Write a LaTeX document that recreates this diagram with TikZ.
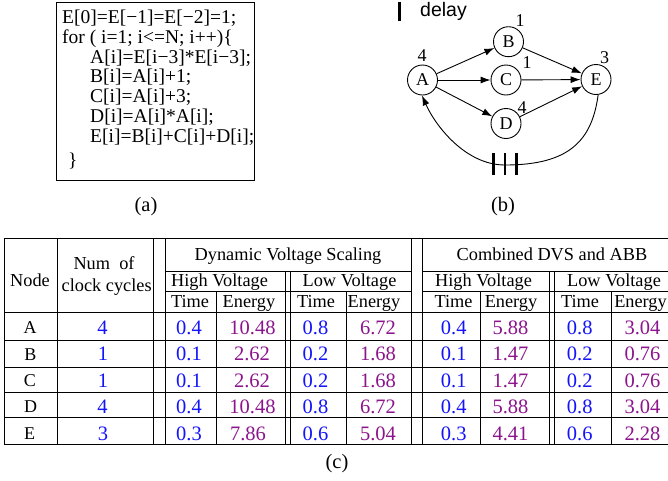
\documentclass[tikz,border=0pt]{standalone}
\usepackage{fontspec}
\setmainfont{Liberation Serif}
\newfontfamily\sansf{Liberation Sans}
\usetikzlibrary{arrows.meta}
\definecolor{valblue}{RGB}{20,20,250}
\definecolor{valpurple}{RGB}{140,20,140}
\begin{document}
\begin{tikzpicture}[x=1pt,y=-1pt,
  codeline/.style={anchor=base west, inner sep=0pt, font=\fontsize{19.5}{20}\selectfont},
  hdr/.style={anchor=base, inner sep=0pt, font=\fontsize{18.3}{20}\selectfont},
  rowlbl/.style={anchor=base, inner sep=0pt, font=\fontsize{18}{20}\selectfont},
  tval/.style={anchor=base, inner sep=0pt, font=\fontsize{20.5}{22}\selectfont, text=valblue},
  enval/.style={anchor=base, inner sep=0pt, font=\fontsize{20.5}{22}\selectfont, text=valpurple},
  vtx/.style={circle, draw, line width=0.9pt, minimum size=30pt, inner sep=0pt, font=\fontsize{18}{20}\selectfont},
  wlbl/.style={anchor=base, inner sep=0pt, font=\fontsize{18}{20}\selectfont},
  gedge/.style={line width=0.9pt, -{Latex[length=10pt,width=7pt]}},
  gridline/.style={line width=1pt},
  delaybar/.style={line width=2.7pt},
  captxt/.style={inner sep=0pt, font=\fontsize{20.5}{22}\selectfont}]
\useasboundingbox (0,0) rectangle (668,480);

% ---------- (a) code ----------
\draw[line width=0.9pt] (56,2) rectangle (254,180);
\node[codeline] (c1) at (62,23.5) {E[0]=E[−1]=E[−2]=1;};
\node[codeline] (c2) at (62,43.3) {for ( i=1; i<=N; i++)\{};
\node[codeline] (c3) at (90,63.1) {A[i]=E[i−3]*E[i−3];};
\node[codeline] (c4) at (90,82.9) {B[i]=A[i]+1;};
\node[codeline] (c5) at (90,102.7) {C[i]=A[i]+3;};
\node[codeline] (c6) at (90,122.5) {D[i]=A[i]*A[i];};
\node[codeline] (c7) at (90,142.3) {E[i]=B[i]+C[i]+D[i];};
\node[codeline] (c8) at (68,166) {\}};
\node[captxt] (capa) at (146,207) {(a)};

% ---------- (b) graph ----------
\draw[delaybar] (399.7,1.7) -- (399.7,20.7);
\node[anchor=base west, inner sep=0pt, font=\sansf\fontsize{19.5}{20}\selectfont] (dl) at (420,16) {delay};
\node[vtx] (A) at (422.5,80) {A};
\node[vtx] (B) at (508.5,41.7) {B};
\node[vtx] (C) at (506,80) {C};
\node[vtx] (D) at (506,123.5) {D};
\node[vtx] (E) at (596,79.5) {E};
\node[wlbl] (wA) at (422,61.7) {4};
\node[wlbl] (wB) at (520,26) {1};
\node[wlbl] (wC) at (527,68) {1};
\node[wlbl] (wD) at (522,113) {4};
\node[wlbl] (wE) at (604.5,63) {3};
\draw[gedge] (A) -- (B);
\draw[gedge] (A) -- (C);
\draw[gedge] (A) -- (D);
\draw[gedge] (B) -- (E);
\draw[gedge] (C) -- (E);
\draw[gedge] (D) -- (E);
\draw[gedge] (E.-82) .. controls (592,140) and (570,165) .. (505,165)
  .. controls (465,165) and (435,125) .. (A.-92);
\draw[delaybar] (493.3,153) -- (493.3,175);
\draw[delaybar] (505,153) -- (505,175);
\draw[delaybar] (516.7,153) -- (516.7,175);
\node[captxt] (capb) at (503,207) {(b)};

% ---------- (c) table ----------
% horizontal rules
\draw[gridline] (4,238.3) -- (668,238.3);
\draw[gridline] (165,271) -- (411.7,271);
\draw[gridline] (422.7,271) -- (668,271);
\draw[gridline] (165,291.7) -- (411.7,291.7);
\draw[gridline] (422.7,291.7) -- (668,291.7);
\draw[gridline] (4,312) -- (668,312);
\foreach \yy in {340.7,367,392,417.5,444.5}
  \draw[gridline] (4,\yy) -- (668,\yy);
% vertical rules
\foreach \xx in {4,57,153.5,165,411.7,422.7}
  \draw[gridline] (\xx,238.3) -- (\xx,444.5);
\foreach \xx in {285.7,290.7,549,554.3}
  \draw[gridline] (\xx,271) -- (\xx,444.5);
\foreach \xx in {216.7,346,480.7,611.7}
  \draw[gridline] (\xx,291.7) -- (\xx,444.5);

% headers
\node[hdr] (hNode) at (30,286.5) {Node};
\node[hdr] (hNum1) at (104,269.5) {Num\ \ of};
\node[hdr] (hNum2) at (106.7,291.5) {clock cycles};
\node[hdr] (hDVS) at (288,260.5) {Dynamic Voltage Scaling};
\node[hdr] (hCMB) at (552,260.5) {Combined DVS and ABB};
\node[hdr] (hHV1) at (219.5,286.5) {High Voltage};
\node[hdr] (hLV1) at (349.5,286.5) {Low Voltage};
\node[hdr] (hHV2) at (483.5,286.5) {High Voltage};
\node[hdr] (hLV2) at (614,286.5) {Low Voltage};
\node[hdr] (t1) at (190,307.5) {Time};
\node[hdr] (e1) at (249,307.5) {Energy};
\node[hdr] (t2) at (316,307.5) {Time};
\node[hdr] (e2) at (374,307.5) {Energy};
\node[hdr] (t3) at (453.5,307.5) {Time};
\node[hdr] (e3) at (511,307.5) {Energy};
\node[hdr] (t4) at (580,307.5) {Time};
\node[hdr] (e4) at (640.5,307.5) {Energy};

% rows
\node[rowlbl] (rA) at (30,333.5) {A};
\node[rowlbl] (rB) at (30.5,360) {B};
\node[rowlbl] (rC) at (30,386) {C};
\node[rowlbl] (rD) at (30.5,412) {D};
\node[rowlbl] (rE) at (29.5,439) {E};

\node[tval] (nA) at (102.5,334) {4};
\node[tval] (nB) at (103,360.5) {1};
\node[tval] (nC) at (103,387) {1};
\node[tval] (nD) at (102.5,413) {4};
\node[tval] (nE) at (103,440) {3};

% DVS high
\node[tval] (a1) at (189,334) {0.4};
\node[tval] (b1) at (189,360.5) {0.1};
\node[tval] (cc1) at (189,387) {0.1};
\node[tval] (d1) at (189,413) {0.4};
\node[tval] (ee1) at (189,440) {0.3};
\node[enval] (a2) at (252.5,334) {10.48};
\node[enval] (b2) at (252,360.5) {2.62};
\node[enval] (cc2) at (252,387) {2.62};
\node[enval] (d2) at (252.5,413) {10.48};
\node[enval] (ee2) at (248,440) {7.86};
% DVS low
\node[tval] (a3) at (315.5,334) {0.8};
\node[tval] (b3) at (315.5,360.5) {0.2};
\node[tval] (cc3) at (315.5,387) {0.2};
\node[tval] (d3) at (315.5,413) {0.8};
\node[tval] (ee3) at (315.5,440) {0.6};
\node[enval] (a4) at (378,334) {6.72};
\node[enval] (b4) at (378,360.5) {1.68};
\node[enval] (cc4) at (378,387) {1.68};
\node[enval] (d4) at (378,413) {6.72};
\node[enval] (ee4) at (378,440) {5.04};
% Combined high
\node[tval] (a5) at (453.7,334) {0.4};
\node[tval] (b5) at (453.7,360.5) {0.1};
\node[tval] (cc5) at (453.7,387) {0.1};
\node[tval] (d5) at (453.7,413) {0.4};
\node[tval] (ee5) at (453.7,440) {0.3};
\node[enval] (a6) at (510.5,334) {5.88};
\node[enval] (b6) at (510.5,360.5) {1.47};
\node[enval] (cc6) at (510.5,387) {1.47};
\node[enval] (d6) at (510.5,413) {5.88};
\node[enval] (ee6) at (510.5,440) {4.41};
% Combined low
\node[tval] (a7) at (579.7,334) {0.8};
\node[tval] (b7) at (579.7,360.5) {0.2};
\node[tval] (cc7) at (579.7,387) {0.2};
\node[tval] (d7) at (579.7,413) {0.8};
\node[tval] (ee7) at (579.7,440) {0.6};
\node[enval] (a8) at (642.5,334) {3.04};
\node[enval] (b8) at (642.5,360.5) {0.76};
\node[enval] (cc8) at (642.5,387) {0.76};
\node[enval] (d8) at (642.5,413) {3.04};
\node[enval] (ee8) at (642.5,440) {2.28};

\node[captxt] (capc) at (337,464) {(c)};
\end{tikzpicture}
\end{document}
